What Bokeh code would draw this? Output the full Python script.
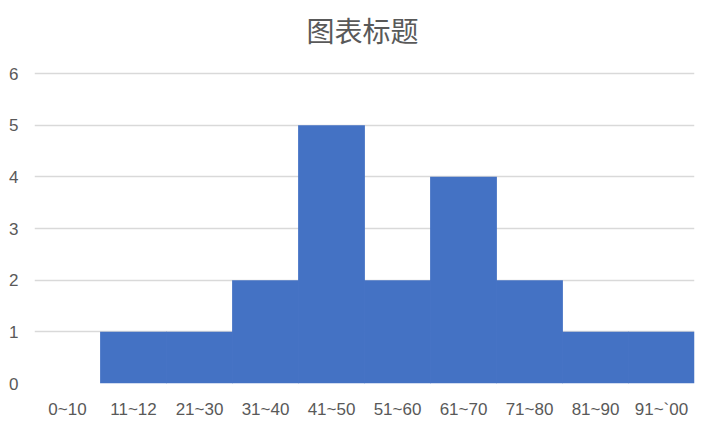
from bokeh.plotting import figure
from bokeh.models import FactorRange, Range1d, FixedTicker
from bokeh.core.properties import value
from bokeh.embed import file_html
from bokeh.resources import INLINE

categories = ["0~10", "11~12", "21~30", "31~40", "41~50", "51~60", "61~70", "71~80", "81~90", "91~`00"]
counts = [0, 1, 1, 2, 5, 2, 4, 2, 1, 1]
y_ticks = [0, 1, 2, 3, 4, 5, 6]
title_text = "图表标题"

# frame covers the title band too: 0..6 spans 310px, frame is 383px tall
y_top = 6 * 383 / 310

p = figure(x_range=FactorRange(factors=categories, range_padding=0),
           y_range=Range1d(0, y_top),
           width=716, height=432,
           output_backend="svg", toolbar_location=None,
           min_border_left=34, min_border_right=22,
           min_border_top=0, min_border_bottom=49)

p.vbar(x=categories, top=counts, bottom=0, width=1.012,
       fill_color="#4472C4", line_color=None)

p.text(x=["51~60"], y=[6 + 44 * 6 / 310], text=[title_text],
       x_offset=-35, text_align="center", text_baseline="middle",
       text_font=value("Noto Sans CJK SC"), text_font_size="28px",
       text_color="#595959")

p.outline_line_color = None
p.background_fill_color = "white"
p.border_fill_color = "white"

p.xgrid.grid_line_color = None
p.ygrid.grid_line_color = "#D9D9D9"
p.ygrid.grid_line_width = 1.5
p.yaxis.ticker = FixedTicker(ticks=y_ticks)

for ax in (p.xaxis[0], p.yaxis[0]):
    ax.axis_line_color = None
    ax.major_tick_line_color = None
    ax.minor_tick_line_color = None
    ax.major_tick_out = 0
    ax.major_tick_in = 0
    ax.major_label_text_color = "#595959"
    ax.major_label_text_font = "Liberation Sans Narrow, Liberation Sans"
    ax.major_label_text_font_size = "17px"

p.yaxis.major_label_standoff = 16
p.xaxis.major_label_standoff = 16

open("out.html", "w").write(file_html(p, INLINE))
